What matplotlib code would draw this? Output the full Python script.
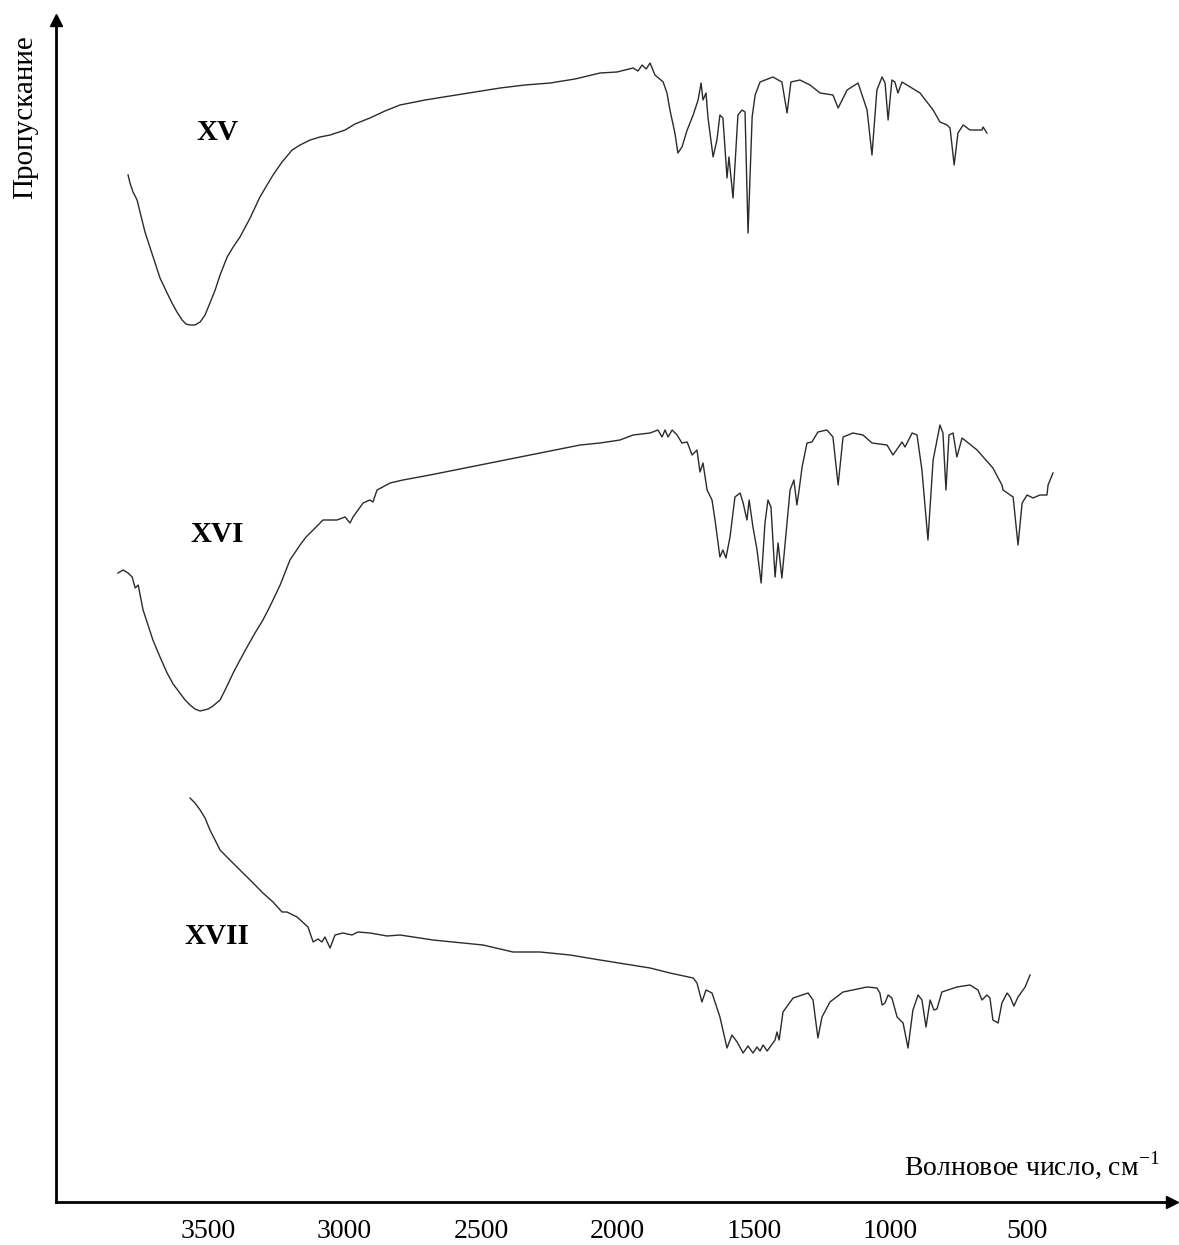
import numpy as np
import matplotlib.pyplot as plt

plt.rcParams['font.family'] = ['Liberation Serif', 'DejaVu Serif']
plt.rcParams['mathtext.fontset'] = 'custom'
plt.rcParams['mathtext.rm'] = 'Liberation Serif'

# IR spectra: wavenumber (cm-1), transmittance (arb. units, stacked)
wn_xv = [3793, 3786, 3775, 3760, 3742, 3731, 3712, 3694, 3676, 3650, 3632, 3614, 3595, 3581,
         3566, 3548, 3529, 3511, 3493, 3474, 3456, 3430, 3408, 3383, 3346, 3310, 3284, 3262,
         3229, 3192, 3163, 3126, 3090, 3053, 2998, 2962, 2907, 2852, 2797, 2705, 2614, 2522,
         2430, 2339, 2247, 2156, 2064, 2002, 1943, 1925, 1910, 1895, 1881, 1863, 1833, 1819,
         1808, 1790, 1779, 1764, 1745, 1723, 1705, 1694, 1687, 1676, 1669, 1650, 1636, 1625,
         1614, 1599, 1592, 1577, 1559, 1544, 1533, 1522, 1507, 1496, 1478, 1431, 1398, 1379,
         1365, 1332, 1295, 1258, 1211, 1192, 1159, 1119, 1086, 1068, 1050, 1031, 1020, 1009,
         995, 984, 973, 958, 892, 844, 819, 793, 782, 767, 753, 734, 709, 665, 661, 647]
t_xv = [1027, 1019, 1010, 1002, 982, 970, 954, 939, 924, 909, 899, 890, 882, 878,
        877, 877, 880, 887, 899, 912, 927, 945, 955, 965, 984, 1005, 1017, 1027,
        1040, 1052, 1057, 1062, 1065, 1067, 1072, 1078, 1084, 1091, 1097, 1102, 1106, 1110,
        1114, 1117, 1119, 1123, 1129, 1130, 1134, 1131, 1137, 1133, 1139, 1127, 1120, 1109,
        1092, 1069, 1049, 1055, 1072, 1087, 1102, 1119, 1102, 1109, 1085, 1045, 1062, 1087,
        1084, 1024, 1045, 1004, 1087, 1092, 1090, 969, 1085, 1107, 1120, 1125, 1120, 1089,
        1120, 1122, 1117, 1109, 1107, 1094, 1112, 1119, 1092, 1047, 1112, 1125, 1119, 1082,
        1122, 1120, 1109, 1120, 1109, 1092, 1080, 1077, 1074, 1037, 1069, 1077, 1072, 1072, 1075, 1069]

wn_xvi = [3830, 3811, 3793, 3778, 3767, 3756, 3738, 3720, 3702, 3676, 3650, 3628, 3603, 3584,
          3566, 3548, 3529, 3500, 3482, 3456, 3434, 3408, 3383, 3357, 3328, 3299, 3280, 3262,
          3236, 3200, 3163, 3141, 3115, 3079, 3028, 2998, 2980, 2969, 2932, 2907, 2896, 2881,
          2833, 2786, 2687, 2595, 2504, 2412, 2321, 2229, 2137, 2064, 1991, 1943, 1881, 1852,
          1837, 1826, 1815, 1800, 1782, 1764, 1745, 1727, 1709, 1698, 1687, 1672, 1654, 1643,
          1625, 1614, 1603, 1588, 1570, 1551, 1540, 1526, 1518, 1504, 1489, 1474, 1460, 1449,
          1438, 1423, 1412, 1398, 1379, 1368, 1354, 1343, 1335, 1324, 1306, 1288, 1266, 1233,
          1211, 1192, 1174, 1138, 1101, 1068, 1013, 991, 958, 947, 921, 903, 885, 863, 844,
          819, 808, 797, 786, 771, 757, 738, 683, 625, 592, 588, 551, 533, 518, 500, 478, 453,
          427, 423, 405]
t_xvi = [629, 632, 629, 625, 614, 617, 592, 577, 562, 545, 529, 518, 509, 502,
         497, 493, 491, 493, 496, 502, 514, 529, 542, 555, 569, 582, 592, 602,
         617, 642, 657, 665, 672, 682, 682, 685, 679, 685, 699, 702, 700, 712,
         719, 722, 727, 732, 737, 742, 747, 752, 757, 759, 762, 767, 769, 772,
         765, 772, 765, 772, 767, 759, 760, 747, 752, 730, 739, 712, 702, 682,
         645, 652, 644, 665, 705, 709, 699, 682, 702, 675, 652, 619, 679, 702,
         695, 625, 659, 624, 679, 712, 722, 697, 712, 735, 759, 760, 770, 772,
         765, 717, 765, 769, 767, 759, 757, 747, 760, 755, 769, 767, 732, 662, 742,
         777, 769, 712, 767, 769, 745, 764, 752, 734, 717, 712, 705, 657, 699, 707, 704, 707,
         707, 717, 729]

wn_xvii = [3566, 3548, 3529, 3511, 3493, 3456, 3420, 3372, 3335, 3299, 3262, 3229, 3211, 3174,
           3134, 3115, 3097, 3083, 3072, 3053, 3035, 3006, 2973, 2951, 2907, 2844, 2797, 2676,
           2493, 2383, 2284, 2174, 2064, 1881, 1808, 1723, 1709, 1691, 1676, 1654, 1625, 1599,
           1581, 1562, 1540, 1522, 1504, 1489, 1478, 1467, 1452, 1423, 1416, 1408, 1394, 1357,
           1302, 1284, 1266, 1251, 1222, 1174, 1086, 1050, 1039, 1031, 1020, 1009, 995, 976,
           954, 936, 918, 899, 885, 870, 855, 841, 830, 812, 757, 709, 680, 665, 647, 636, 625,
           606, 592, 573, 562, 548, 533, 507, 489]
t_xvii = [404, 399, 392, 384, 372, 352, 342, 329, 319, 309, 300, 290, 290, 285,
          275, 260, 263, 260, 265, 254, 267, 269, 267, 270, 269, 266, 267, 262,
          257, 250, 250, 247, 242, 234, 229, 224, 219, 200, 212, 209, 185, 154,
          167, 160, 149, 156, 149, 155, 151, 157, 151, 162, 170, 162, 190, 204,
          209, 202, 164, 185, 200, 210, 215, 214, 209, 197, 199, 207, 204, 185,
          179, 154, 192, 207, 202, 175, 202, 192, 193, 210, 215, 217, 212, 202, 207, 204, 182,
          179, 199, 209, 205, 196, 205, 215, 227]

spectra = [(wn_xv, t_xv, 'XV', 1069), (wn_xvi, t_xvi, 'XVI', 667), (wn_xvii, t_xvii, 'XVII', 265)]
ticks = [3500, 3000, 2500, 2000, 1500, 1000, 500]

fig = plt.figure(figsize=(11.79, 12.45), dpi=100)
ax = fig.add_axes([56 / 1179, 43 / 1245, 1116 / 1179, 1182 / 1245])

for wn, t, name, ty in spectra:
    ax.plot(wn, t, color='#2b2b2b', lw=1.0)
    ax.text(3467, ty, name, fontsize=21, fontweight='bold', ha='center', va='center')

ax.set_xlim(4057, -31)
ax.set_ylim(0, 1182)

for s in ['top', 'right']:
    ax.spines[s].set_visible(False)
for s in ['left', 'bottom']:
    ax.spines[s].set_linewidth(2.0)
ax.plot(1, 0, '>k', ms=9, transform=ax.transAxes, clip_on=False)
ax.plot(0, 1, '^k', ms=9, transform=ax.transAxes, clip_on=False)

ax.set_xticks(ticks)
ax.set_xticklabels([str(v) for v in ticks], fontsize=20)
ax.tick_params(axis='x', length=0, pad=12)
ax.set_yticks([])

ax.text(13, 27, 'Волновое число, см$^{-1}$', fontsize=20, ha='right', va='baseline')
fig.text(25 / 1179, 1 - 117 / 1245, 'Пропускание', fontsize=21, rotation=90,
         ha='center', va='center')

fig.savefig('out.png', dpi=100, facecolor='white')
